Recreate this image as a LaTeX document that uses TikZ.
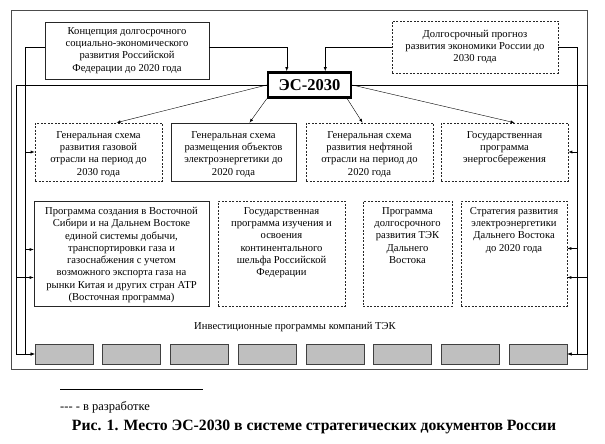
\documentclass[tikz,border=0pt]{standalone}
\usepackage{fontspec}
\setmainfont{Liberation Serif}

\begin{document}
\begin{tikzpicture}[x=1pt,y=-1pt,>=latex,
    every node/.style={font=\fontsize{10.6}{12.3}\selectfont},
    box/.style={draw=black!85,line width=0.6pt,align=center,inner sep=2pt},
    dbox/.style={box,dash pattern=on 2pt off 1.5pt},
    top/.style={anchor=north,align=center,yshift=-3pt},
    gbox/.style={draw=black!75,line width=0.6pt,fill=black!25,minimum width=58pt,minimum height=20pt},
    node distance=67.75pt]
  \useasboundingbox (0,0) rectangle (605,444);
  \draw[black!70,line width=0.6pt] (11,10) rectangle (587,369);

  \node[draw,line width=2.5pt,minimum width=83pt,minimum height=25pt,font=\bfseries\fontsize{16.5}{18}\selectfont] (1) at (309.5,85) {ЭС-2030};
  \node[box,minimum width=164pt,minimum height=57pt] (2) at (127,50.5) {Концепция долгосрочного\\социально-экономического\\развития Российской\\Федерации до 2020 года};
  \node[dbox,minimum width=166pt,minimum height=52pt] (3) at (475,47) {Долгосрочный прогноз\\развития экономики России до\\2030 года};

  % first row
  \node[dbox,minimum width=127pt,minimum height=58pt,label={[top,yshift=-2pt]north:{Генеральная схема\\развития газовой\\отрасли на период до\\2030 года}}] (4) at (98.5,152) {};
  \node[box,minimum width=125pt,minimum height=58pt,label={[top,yshift=-2pt]north:{Генеральная схема\\размещения объектов\\электроэнергетики до\\2020 года}}] (5) at (233.5,152) {};
  \node[dbox,minimum width=127pt,minimum height=58pt,label={[top,yshift=-2pt]north:{Генеральная схема\\развития нефтяной\\отрасли на период до\\2020 года}}] (6) at (369.5,152) {};
  \node[dbox,minimum width=127pt,minimum height=58pt,label={[top,yshift=-2pt]north:{Государственная\\программа\\энергосбережения}}] (7) at (504.5,152) {};

  % second row
  \node[box,minimum width=175pt,minimum height=105pt,label={[top]north:{Программа создания в Восточной\\Сибири и на Дальнем Востоке\\единой системы добычи,\\транспортировки газа и\\газоснабжения с учетом\\возможного экспорта газа на\\рынки Китая и других стран АТР\\(Восточная программа)}}] (8) at (121.5,253.5) {};
  \node[dbox,minimum width=127pt,minimum height=105pt,label={[top]north:{Государственная\\программа изучения и\\освоения\\континентального\\шельфа Российской\\Федерации}}] (9) at (281.5,253.5) {};
  \node[dbox,minimum width=89pt,minimum height=105pt,label={[top]north:{Программа\\долгосрочного\\развития ТЭК\\Дальнего\\Востока}}] (10) at (407.5,253.5) {};
  \node[dbox,minimum width=106pt,minimum height=105pt,label={[top]north:{Стратегия развития\\электроэнергетики\\Дальнего Востока\\до 2020 года}}] (11) at (514,253.5) {};

  % companies
  \node (20) at (295,327) {Инвестиционные программы компаний ТЭК};
  \node[gbox] (12) at (64,354) {};
  \node[gbox,right of=12] (13) {};
  \node[gbox,right of=13] (14) {};
  \node[gbox,right of=14] (15) {};
  \node[gbox,right of=15] (16) {};
  \node[gbox,right of=16] (17) {};
  \node[gbox,right of=17] (18) {};
  \node[gbox,right of=18] (19) {};

  % rails
  \coordinate (a) at (25,0);
  \coordinate (b) at (16,0);
  \coordinate (c) at (577,0);
  \coordinate (d) at (587,0);

  \draw[->] ([yshift=3pt]2.east) -| ([xshift=20pt]1.north west);
  \draw[->] (3.west) -| ([xshift=-27pt]1.north east);

  \draw[->] (1.west) -- ([xshift=18pt]4.north);
  \draw[->] (1.south west) -- ([xshift=16pt]5.north);
  \draw[->] ([xshift=-5pt]1.south east) -- ([xshift=-7pt]6.north);
  \draw[->] (1.east) -- ([xshift=10pt]7.north);

  \draw[->] ([yshift=3pt]2.west) -| (a |- 12.west) -- (12.west);
  \draw[->] (a |- 4.west) -- (4.west);
  \draw[->] ([yshift=4pt]a |- 8.west) -- ([yshift=4pt]8.west);
  \draw[->] (1.west) -| (b |- 12.west) -- (12.west);
  \draw[->] ([yshift=-24pt]b |- 8.west) -- ([yshift=-24pt]8.west);

  \draw[->] (3.east) -| (c |- 19.east) -- (19.east);
  \draw[->] (c |- 7.east) -- (7.east);
  \draw[->] ([yshift=5pt]c |- 11.east) -- ([yshift=5pt]11.east);
  \draw[->] (1.east) -| (d |- 19.east) -- (19.east);
  \draw[->] ([yshift=-24pt]d |- 11.east) -- ([yshift=-24pt]11.east);

  % legend and caption
  \draw (60,389) -- (203,389);
  \node[anchor=west,inner sep=0pt,font=\fontsize{12.5}{14}\selectfont] (21) at (60,407) {{-}{-}{-} - в разработке};
  \node[font=\bfseries\fontsize{15.7}{18}\selectfont] (22) at (314,427) {Рис. 1. Место ЭС-2030 в системе стратегических документов России};
\end{tikzpicture}
\end{document}
